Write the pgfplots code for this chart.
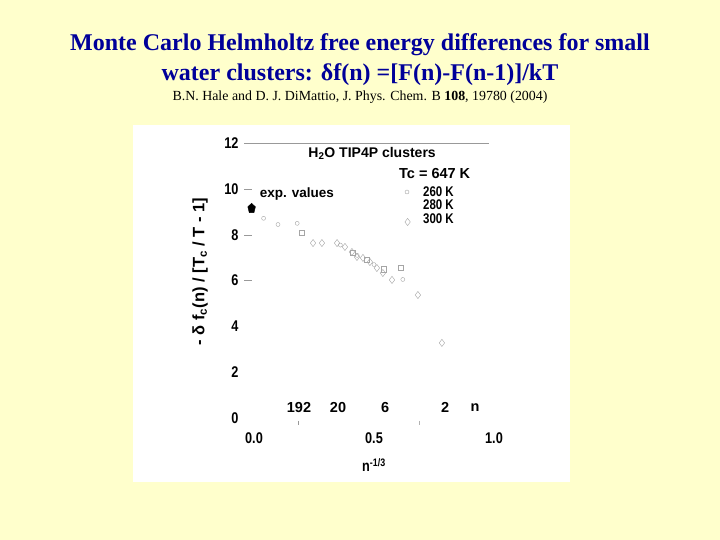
\documentclass[border=0pt]{standalone}
\usepackage{fontspec}
\setmainfont{Liberation Serif}
\newfontfamily\arial{Liberation Sans}
\newfontfamily\arialn[FakeStretch=0.82]{Liberation Sans}
\usepackage{pgfplots}
\pgfplotsset{compat=1.18}
\definecolor{bgyellow}{RGB}{255,255,204}
\definecolor{titleblue}{RGB}{0,0,153}
\definecolor{mk}{RGB}{165,165,165}

\begin{document}
\begin{tikzpicture}
\useasboundingbox (0,-540pt) rectangle (720pt,0);
\fill[bgyellow] (0,-540pt) rectangle (720pt,0);
\fill[white] (133pt,-482pt) rectangle (570pt,-125pt);

\node[titleblue, font=\fontsize{24}{30}\selectfont\bfseries, align=center] at (360pt,-60pt)
  {Monte Carlo Helmholtz free energy differences for small\\water clusters: δf(n) =[F(n)-F(n-1)]/kT};
\node[font=\fontsize{13.9}{15}\selectfont] at (360pt,-97pt)
  {B.N. Hale and D. J. DiMattio, J. Phys. Chem. B \textbf{108}, 19780 (2004)};

\begin{axis}[
  at={(242pt,-429.45pt)}, anchor=south west,
  scale only axis, width=264pt, height=297.7pt,
  xmin=-0.05, xmax=1.05, ymin=-0.5, ymax=12.5,
  axis line style={draw=none}, major tick length=0pt,
  ytick={0,2,...,12},
  xtick={0,0.5,1}, xticklabels={0.0,0.5,1.0},
  ticklabel style={font=\arialn\bfseries\fontsize{15.5}{15}\selectfont},
  /pgf/number format/assume math mode=true,
  clip=false,
  xlabel={n\textsuperscript{-1/3}},
  xlabel style={at={(axis cs:0.5,-2.05)}, anchor=center, font=\arialn\bfseries\fontsize{15.5}{15}\selectfont},
  ylabel={- δ f\textsubscript{c}(n) / [T\textsubscript{c} / T - 1]},
  ylabel style={at={(axis cs:-0.225,6.4)}, anchor=center, font=\arial\bfseries\fontsize{16.5}{16}\selectfont},
  ]
  % frame pieces of the original scan
  \draw[gray!80] (axis cs:-0.04,12) -- (axis cs:0.98,12);
  \draw[gray!80] (axis cs:-0.04,10) -- (axis cs:-0.01,10);
  \draw[gray!80] (axis cs:-0.04,8) -- (axis cs:-0.01,8);
  \draw[gray!80] (axis cs:-0.04,6) -- (axis cs:-0.01,6);
  \draw[gray!80] (axis cs:0.185,-0.13) -- (axis cs:0.185,-0.32);
  \draw[gray!60] (axis cs:0.69,-0.13) -- (axis cs:0.69,-0.32);

  % top n scale
  \node[font=\arial\bfseries\fontsize{14.5}{14}\selectfont] at (axis cs:0.1875,0.44) {192};
  \node[font=\arial\bfseries\fontsize{14.5}{14}\selectfont] at (axis cs:0.35,0.44) {20};
  \node[font=\arial\bfseries\fontsize{14.5}{14}\selectfont] at (axis cs:0.546,0.44) {6};
  \node[font=\arial\bfseries\fontsize{14.5}{14}\selectfont] at (axis cs:0.796,0.44) {2};
  \node[font=\arial\bfseries\fontsize{14.5}{14}\selectfont] at (axis cs:0.921,0.44) {n};

  % annotations
  \node[font=\arial\bfseries\fontsize{14}{14}\selectfont] at (axis cs:0.492,11.57) {H\textsubscript{2}O TIP4P clusters};
  \node[anchor=west, font=\arial\bfseries\fontsize{14.5}{15}\selectfont] at (axis cs:0.59,10.66) {Tc = 647 K};
  \node[anchor=west, font=\arialn\bfseries\fontsize{14}{14}\selectfont] at (axis cs:0.69,9.87) {260 K};
  \node[anchor=west, font=\arialn\bfseries\fontsize{14}{14}\selectfont] at (axis cs:0.69,9.30) {280 K};
  \node[anchor=west, font=\arialn\bfseries\fontsize{14}{14}\selectfont] at (axis cs:0.69,8.69) {300 K};
  \node[anchor=west, font=\arial\bfseries\fontsize{13.5}{14}\selectfont] at (axis cs:0.01,9.78) {exp. values};

  % exp. values
  \addplot[only marks, mark=pentagon*, mark size=4pt, mark options={yscale=1.3, fill=black, draw=black}]
    coordinates {(-0.01,9.15)};

  % 260 K
  \addplot[only marks, mark=o, mark size=2pt, mark options={draw=mk, line width=0.4pt}]
    coordinates {(0.04,8.72) (0.10,8.45) (0.18,8.50) (0.36,7.55) (0.43,7.10) (0.50,6.70) (0.62,6.05) (0.6375,9.87)};

  % 280 K
  \addplot[only marks, mark=square, mark size=2.6pt, mark options={draw=mk, line width=0.4pt}]
    coordinates {(0.20,8.10) (0.41,7.22) (0.47,6.90) (0.54,6.50) (0.61,6.55)};

  % 300 K
  \addplot[only marks, mark=diamond, mark size=3.6pt, mark options={draw=mk, line width=0.4pt}]
    coordinates {(0.246,7.64) (0.283,7.64) (0.346,7.64) (0.379,7.47) (0.408,7.25) (0.429,7.03)
                 (0.454,6.99) (0.483,6.81) (0.512,6.55) (0.537,6.33) (0.575,6.03)
                 (0.683,5.37) (0.783,3.28) (0.64,8.56)};
\end{axis}
\end{tikzpicture}
\end{document}
